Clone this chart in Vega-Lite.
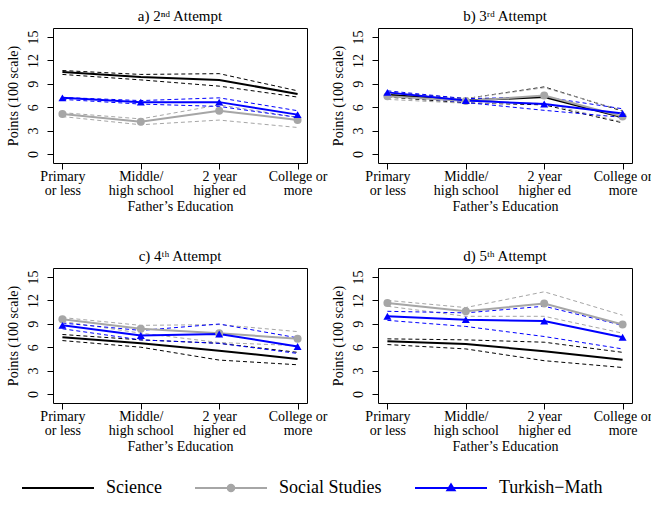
{
  "$schema": "https://vega.github.io/schema/vega-lite/v6.json",
  "background": "white",
  "padding": {"left": 5, "top": 8, "right": 0, "bottom": 0},
  "data": {"values": [
    {"p": "a) 2ⁿᵈ Attempt", "s": "Science", "e": 1, "est": 10.5, "lo": 10.2, "hi": 10.7},
    {"p": "a) 2ⁿᵈ Attempt", "s": "Science", "e": 2, "est": 9.87, "lo": 9.5, "hi": 10.2},
    {"p": "a) 2ⁿᵈ Attempt", "s": "Science", "e": 3, "est": 9.5, "lo": 8.7, "hi": 10.3},
    {"p": "a) 2ⁿᵈ Attempt", "s": "Science", "e": 4, "est": 7.7, "lo": 7.3, "hi": 8.1},
    {"p": "a) 2ⁿᵈ Attempt", "s": "Social Studies", "e": 1, "est": 5.13, "lo": 4.8, "hi": 5.3},
    {"p": "a) 2ⁿᵈ Attempt", "s": "Social Studies", "e": 2, "est": 4.14, "lo": 3.75, "hi": 4.5},
    {"p": "a) 2ⁿᵈ Attempt", "s": "Social Studies", "e": 3, "est": 5.56, "lo": 4.35, "hi": 6.3},
    {"p": "a) 2ⁿᵈ Attempt", "s": "Social Studies", "e": 4, "est": 4.35, "lo": 3.4, "hi": 4.7},
    {"p": "a) 2ⁿᵈ Attempt", "s": "Turkish−Math", "e": 1, "est": 7.2, "lo": 7.0, "hi": 7.25},
    {"p": "a) 2ⁿᵈ Attempt", "s": "Turkish−Math", "e": 2, "est": 6.65, "lo": 6.4, "hi": 6.85},
    {"p": "a) 2ⁿᵈ Attempt", "s": "Turkish−Math", "e": 3, "est": 6.65, "lo": 6.1, "hi": 7.2},
    {"p": "a) 2ⁿᵈ Attempt", "s": "Turkish−Math", "e": 4, "est": 5.05, "lo": 4.7, "hi": 5.55},

    {"p": "b) 3ʳᵈ Attempt", "s": "Science", "e": 1, "est": 7.6, "lo": 7.3, "hi": 7.9},
    {"p": "b) 3ʳᵈ Attempt", "s": "Science", "e": 2, "est": 6.85, "lo": 6.55, "hi": 7.1},
    {"p": "b) 3ʳᵈ Attempt", "s": "Science", "e": 3, "est": 7.3, "lo": 6.3, "hi": 8.6},
    {"p": "b) 3ʳᵈ Attempt", "s": "Science", "e": 4, "est": 4.7, "lo": 4.0, "hi": 5.5},
    {"p": "b) 3ʳᵈ Attempt", "s": "Social Studies", "e": 1, "est": 7.4, "lo": 7.0, "hi": 7.8},
    {"p": "b) 3ʳᵈ Attempt", "s": "Social Studies", "e": 2, "est": 6.8, "lo": 6.5, "hi": 7.1},
    {"p": "b) 3ʳᵈ Attempt", "s": "Social Studies", "e": 3, "est": 7.5, "lo": 6.5, "hi": 8.5},
    {"p": "b) 3ʳᵈ Attempt", "s": "Social Studies", "e": 4, "est": 4.8, "lo": 4.1, "hi": 5.6},
    {"p": "b) 3ʳᵈ Attempt", "s": "Turkish−Math", "e": 1, "est": 7.9, "lo": 7.6, "hi": 8.1},
    {"p": "b) 3ʳᵈ Attempt", "s": "Turkish−Math", "e": 2, "est": 6.85, "lo": 6.6, "hi": 7.1},
    {"p": "b) 3ʳᵈ Attempt", "s": "Turkish−Math", "e": 3, "est": 6.4, "lo": 5.6, "hi": 7.3},
    {"p": "b) 3ʳᵈ Attempt", "s": "Turkish−Math", "e": 4, "est": 5.2, "lo": 4.7, "hi": 5.8},

    {"p": "c) 4ᵗʰ Attempt", "s": "Science", "e": 1, "est": 7.28, "lo": 6.85, "hi": 7.63},
    {"p": "c) 4ᵗʰ Attempt", "s": "Science", "e": 2, "est": 6.5, "lo": 6.0, "hi": 6.94},
    {"p": "c) 4ᵗʰ Attempt", "s": "Science", "e": 3, "est": 5.56, "lo": 4.35, "hi": 6.5},
    {"p": "c) 4ᵗʰ Attempt", "s": "Science", "e": 4, "est": 4.5, "lo": 3.75, "hi": 5.34},
    {"p": "c) 4ᵗʰ Attempt", "s": "Social Studies", "e": 1, "est": 9.57, "lo": 9.3, "hi": 9.8},
    {"p": "c) 4ᵗʰ Attempt", "s": "Social Studies", "e": 2, "est": 8.36, "lo": 7.8, "hi": 8.8},
    {"p": "c) 4ᵗʰ Attempt", "s": "Social Studies", "e": 3, "est": 7.8, "lo": 6.6, "hi": 8.9},
    {"p": "c) 4ᵗʰ Attempt", "s": "Social Studies", "e": 4, "est": 7.07, "lo": 6.2, "hi": 8.0},
    {"p": "c) 4ᵗʰ Attempt", "s": "Turkish−Math", "e": 1, "est": 8.8, "lo": 8.36, "hi": 9.1},
    {"p": "c) 4ᵗʰ Attempt", "s": "Turkish−Math", "e": 2, "est": 7.5, "lo": 6.94, "hi": 8.15},
    {"p": "c) 4ᵗʰ Attempt", "s": "Turkish−Math", "e": 3, "est": 7.7, "lo": 6.5, "hi": 8.97},
    {"p": "c) 4ᵗʰ Attempt", "s": "Turkish−Math", "e": 4, "est": 6.1, "lo": 5.2, "hi": 7.2},

    {"p": "d) 5ᵗʰ Attempt", "s": "Science", "e": 1, "est": 6.77, "lo": 6.34, "hi": 7.07},
    {"p": "d) 5ᵗʰ Attempt", "s": "Science", "e": 2, "est": 6.42, "lo": 5.78, "hi": 6.94},
    {"p": "d) 5ᵗʰ Attempt", "s": "Science", "e": 3, "est": 5.47, "lo": 4.27, "hi": 6.64},
    {"p": "d) 5ᵗʰ Attempt", "s": "Science", "e": 4, "est": 4.4, "lo": 3.4, "hi": 5.34},
    {"p": "d) 5ᵗʰ Attempt", "s": "Social Studies", "e": 1, "est": 11.68, "lo": 11.25, "hi": 12.0},
    {"p": "d) 5ᵗʰ Attempt", "s": "Social Studies", "e": 2, "est": 10.6, "lo": 9.96, "hi": 11.08},
    {"p": "d) 5ᵗʰ Attempt", "s": "Social Studies", "e": 3, "est": 11.6, "lo": 9.96, "hi": 13.1},
    {"p": "d) 5ᵗʰ Attempt", "s": "Social Studies", "e": 4, "est": 8.9, "lo": 7.8, "hi": 10.1},
    {"p": "d) 5ᵗʰ Attempt", "s": "Turkish−Math", "e": 1, "est": 9.96, "lo": 9.44, "hi": 10.6},
    {"p": "d) 5ᵗʰ Attempt", "s": "Turkish−Math", "e": 2, "est": 9.53, "lo": 8.66, "hi": 10.4},
    {"p": "d) 5ᵗʰ Attempt", "s": "Turkish−Math", "e": 3, "est": 9.35, "lo": 7.37, "hi": 11.25},
    {"p": "d) 5ᵗʰ Attempt", "s": "Turkish−Math", "e": 4, "est": 7.28, "lo": 5.78, "hi": 8.8}
  ]},
  "facet": {"field": "p", "type": "nominal", "header": {"title": null, "labelFont": "Liberation Serif", "labelFontSize": 15, "labelPadding": 4, "labelColor": "black"}},
  "columns": 2,
  "spacing": {"row": 105, "column": 71},
  "bounds": "flush",
  "resolve": {"axis": {"x": "independent", "y": "independent"}},
  "spec": {
    "width": 254,
    "height": 135,
    "encoding": {
      "x": {"field": "e", "type": "quantitative",
        "scale": {"domain": [0.88, 4.12], "nice": false, "zero": false},
        "axis": {"values": [1, 2, 3, 4], "title": "Father’s Education",
          "labelExpr": "datum.value == 1 ? ['Primary','or less'] : datum.value == 2 ? ['Middle/','high school'] : datum.value == 3 ? ['2 year','higher ed'] : ['College or','more']",
          "labelLineHeight": 14, "labelPadding": 0, "titlePadding": 2, "labelFlush": false, "labelOverlap": false, "labelBound": false}},
      "y": {"field": "est", "type": "quantitative",
        "scale": {"domain": [-1.15, 16.15], "nice": false, "zero": false},
        "axis": {"values": [0, 3, 6, 9, 12, 15], "tickCount": 6, "title": "Points (100 scale)", "labelAngle": 270, "labelAlign": "center", "labelBaseline": "bottom", "labelPadding": 7, "titlePadding": 6, "labelFlush": false, "labelOverlap": false}},
      "color": {"field": "s", "type": "nominal",
        "scale": {"domain": ["Science", "Social Studies", "Turkish−Math"], "range": ["#000000", "#a6a6a6", "#0000ff"]},
        "legend": {"orient": "none", "legendX": -32, "legendY": 423, "direction": "horizontal", "title": null,
          "symbolSize": 5184, "symbolStrokeWidth": 2, "symbolType": "M-1,0H1",
          "labelFontSize": 18, "labelFont": "Liberation Serif", "labelColor": "black", "labelOffset": 11, "columnPadding": 29, "labelLimit": 0,
          "encode": {"symbols": {"update": {
            "shape": {"signal": "datum.value == 'Science' ? 'M-1,0H1' : datum.value == 'Social Studies' ? 'M-1,0H1M0.09,0A0.09,0.09,0,1,1,-0.09,0A0.09,0.09,0,1,1,0.09,0Z' : 'M-1,0H1M-0.1,0.06L0,-0.1L0.1,0.06Z'"},
            "fill": {"scale": "color", "field": "value"},
            "stroke": {"scale": "color", "field": "value"},
            "fillOpacity": {"value": 1},
            "strokeOpacity": {"value": 1},
            "strokeWidth": {"value": 2}
          }}}}}
    },
    "layer": [
      {
        "transform": [{"fold": ["lo", "hi"], "as": ["bound", "est"]}],
        "mark": {"type": "line", "strokeDash": [4, 3], "strokeWidth": 1},
        "encoding": {
          "detail": {"field": "bound"}
        }
      },
      {
        "mark": {"type": "line", "strokeWidth": 2}
      },
      {
        "transform": [{"filter": "datum.s != 'Science'"}],
        "mark": {"type": "point", "filled": true, "size": 64, "opacity": 1},
        "encoding": {
          "shape": {"field": "s", "type": "nominal", "legend": null,
            "scale": {"domain": ["Social Studies", "Turkish−Math"], "range": ["circle", "triangle-up"]}}
        }
      }
    ]
  },
  "config": {
    "font": "Liberation Serif",
    "view": {"stroke": "black", "strokeWidth": 1},
    "axis": {"grid": false, "domain": false, "tickColor": "black", "tickSize": 6, "labelColor": "black", "labelFont": "Liberation Serif", "labelFontSize": 14, "titleFont": "Liberation Serif", "titleFontSize": 14, "titleFontWeight": "normal", "titleColor": "black"}
  }
}
